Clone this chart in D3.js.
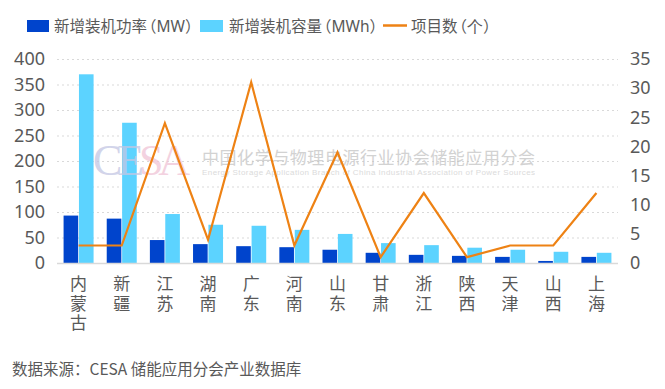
<!DOCTYPE html>
<html>
<head>
<meta charset="utf-8">
<script src="https://cdn.jsdelivr.net/npm/d3@7"></script>
<style>
  body { margin: 0; background: #fff; }
  text { font-family: "Noto Sans CJK SC", "Noto Sans", sans-serif; }
</style>
</head>
<body>
<div id="chart"></div>
<script>
// data
var provinces = ["内蒙古", "新疆", "江苏", "湖南", "广东", "河南", "山东", "甘肃", "浙江", "陕西", "天津", "山西", "上海"];
var powerMW = [93, 87, 45, 37, 33, 31, 26, 20, 16, 14, 12, 4, 12];
var capacityMWh = [370, 275, 96, 75, 73, 65, 57, 39, 35, 30, 26, 22, 20];
var projectCount = [3, 3, 24, 4, 31, 3, 19, 1, 12, 1, 3, 3, 12];
var leftTicks = [0, 50, 100, 150, 200, 250, 300, 350, 400];
var rightTicks = [0, 5, 10, 15, 20, 25, 30, 35];

var width = 665, height = 389;
var plotTop = 59, plotBottom = 263, plotLeft = 57, plotRight = 618;
var darkBlue = "#0044cc", lightBlue = "#5cd3ff", orange = "#ee8214", textCol = "#595959";

var svg = d3.select("#chart")
    .append("svg")
    .attr("width", width)
    .attr("height", height);

var x = d3.scaleBand().domain(provinces).range([plotLeft, plotRight]);
var xIn = d3.scaleBand().domain(["p", "c"])
    .range([x.bandwidth() / 2 - 15, x.bandwidth() / 2 + 15])
    .paddingInner(0.05);
var yL = d3.scaleLinear().domain([0, 400]).range([plotBottom, plotTop]);
var yR = d3.scaleLinear().domain([0, 35]).range([plotBottom, plotTop]);

// grid lines
svg.append("g")
    .selectAll("line")
    .data(leftTicks.slice(1))
    .enter().append("line")
    .attr("x1", plotLeft).attr("x2", plotRight)
    .attr("y1", function(d) { return yL(d) + 0.5; })
    .attr("y2", function(d) { return yL(d) + 0.5; })
    .attr("stroke", "#d9d9d9")
    .attr("stroke-dasharray", "2,3");

// left axis
var axL = svg.append("g")
    .attr("transform", "translate(" + (plotLeft - 10) + ",0)")
    .call(d3.axisLeft(yL).tickValues(leftTicks).tickSize(0).tickPadding(2));
axL.select(".domain").remove();
axL.selectAll("text").attr("fill", textCol).style("font-size", "18px").style("font-family", "'Noto Sans', sans-serif");

// right axis
var axR = svg.append("g")
    .attr("transform", "translate(" + (plotRight + 10) + ",0)")
    .call(d3.axisRight(yR).tickValues(rightTicks).tickSize(0).tickPadding(2));
axR.select(".domain").remove();
axR.selectAll("text").attr("fill", textCol).style("font-size", "18px").style("font-family", "'Noto Sans', sans-serif");

// bars
var groups = svg.append("g").selectAll("g")
    .data(provinces)
    .enter().append("g")
    .attr("transform", function(d) { return "translate(" + x(d) + ",0)"; });

groups.append("rect")
    .attr("x", xIn("p"))
    .attr("width", xIn.bandwidth())
    .attr("y", function(d, i) { return yL(powerMW[i]); })
    .attr("height", function(d, i) { return plotBottom - yL(powerMW[i]); })
    .attr("fill", darkBlue);

groups.append("rect")
    .attr("x", xIn("c"))
    .attr("width", xIn.bandwidth())
    .attr("y", function(d, i) { return yL(capacityMWh[i]); })
    .attr("height", function(d, i) { return plotBottom - yL(capacityMWh[i]); })
    .attr("fill", lightBlue);

// baseline
svg.append("line")
    .attr("x1", plotLeft).attr("x2", plotRight)
    .attr("y1", plotBottom + 0.5).attr("y2", plotBottom + 0.5)
    .attr("stroke", "#d9d9d9").attr("stroke-width", 1.5);

// watermark
var wm = svg.append("g").attr("opacity", 0.75);
var cesa = wm.append("text")
    .attr("x", 93).attr("y", 175)
    .attr("textLength", 97)
    .style("font-family", "'Liberation Serif', serif")
    .style("font-size", "44px");
cesa.append("tspan").attr("fill", "#c3c6e3").text("CE");
cesa.append("tspan").attr("fill", "#f0c4d6").text("SA");
wm.append("text")
    .attr("x", 202).attr("y", 164)
    .attr("textLength", 333)
    .attr("fill", "#c4c4c4")
    .style("font-size", "17px")
    .text("中国化学与物理电源行业协会储能应用分会");
wm.append("text")
    .attr("x", 202).attr("y", 175)
    .attr("textLength", 333)
    .attr("fill", "#cfcfcf")
    .style("font-size", "8px")
    .style("font-family", "'Liberation Sans', sans-serif")
    .text("Energy Storage Application Branch of China Industrial Association of Power Sources");

// project count line
var line = d3.line()
    .x(function(d, i) { return x(provinces[i]) + x.bandwidth() / 2; })
    .y(function(d) { return yR(d); });

svg.append("path")
    .datum(projectCount)
    .attr("d", line)
    .attr("fill", "none")
    .attr("stroke", orange)
    .attr("stroke-width", 2.2);

// category labels, written vertically, one text per character
svg.append("g").selectAll("g")
    .data(provinces)
    .enter().append("g")
    .each(function(d) {
        var g = d3.select(this);
        var cx = x(d) + x.bandwidth() / 2;
        d.split("").forEach(function(ch, k) {
            g.append("text")
                .attr("x", cx).attr("y", 290 + k * 19.5)
                .attr("text-anchor", "middle")
                .attr("fill", textCol)
                .style("font-size", "17px")
                .text(ch);
        });
    });

// legend
function legendLabel(g, xPos, main, inner) {
    var t = g.append("text").attr("x", xPos).attr("y", 32).attr("fill", textCol);
    t.append("tspan").text(main);
    t.append("tspan").attr("dx", -6).text("（");
    t.append("tspan").style("font-family", "'Noto Sans', sans-serif").text(inner);
    t.append("tspan").text("）");
}
var legend = svg.append("g").style("font-size", "15.5px");
legend.append("rect").attr("x", 27).attr("y", 20).attr("width", 22).attr("height", 12).attr("fill", darkBlue);
legendLabel(legend, 54, "新增装机功率", "MW");
legend.append("rect").attr("x", 200).attr("y", 20).attr("width", 23).attr("height", 12).attr("fill", lightBlue);
legendLabel(legend, 229, "新增装机容量", "MWh");
legend.append("line").attr("x1", 383).attr("x2", 407).attr("y1", 25.5).attr("y2", 25.5)
    .attr("stroke", orange).attr("stroke-width", 2.5);
legendLabel(legend, 411, "项目数", "个");

// source note
svg.append("text")
    .attr("x", 12).attr("y", 375)
    .attr("fill", textCol)
    .style("font-size", "15.5px")
    .text("数据来源：CESA 储能应用分会产业数据库");
</script>
</body>
</html>
